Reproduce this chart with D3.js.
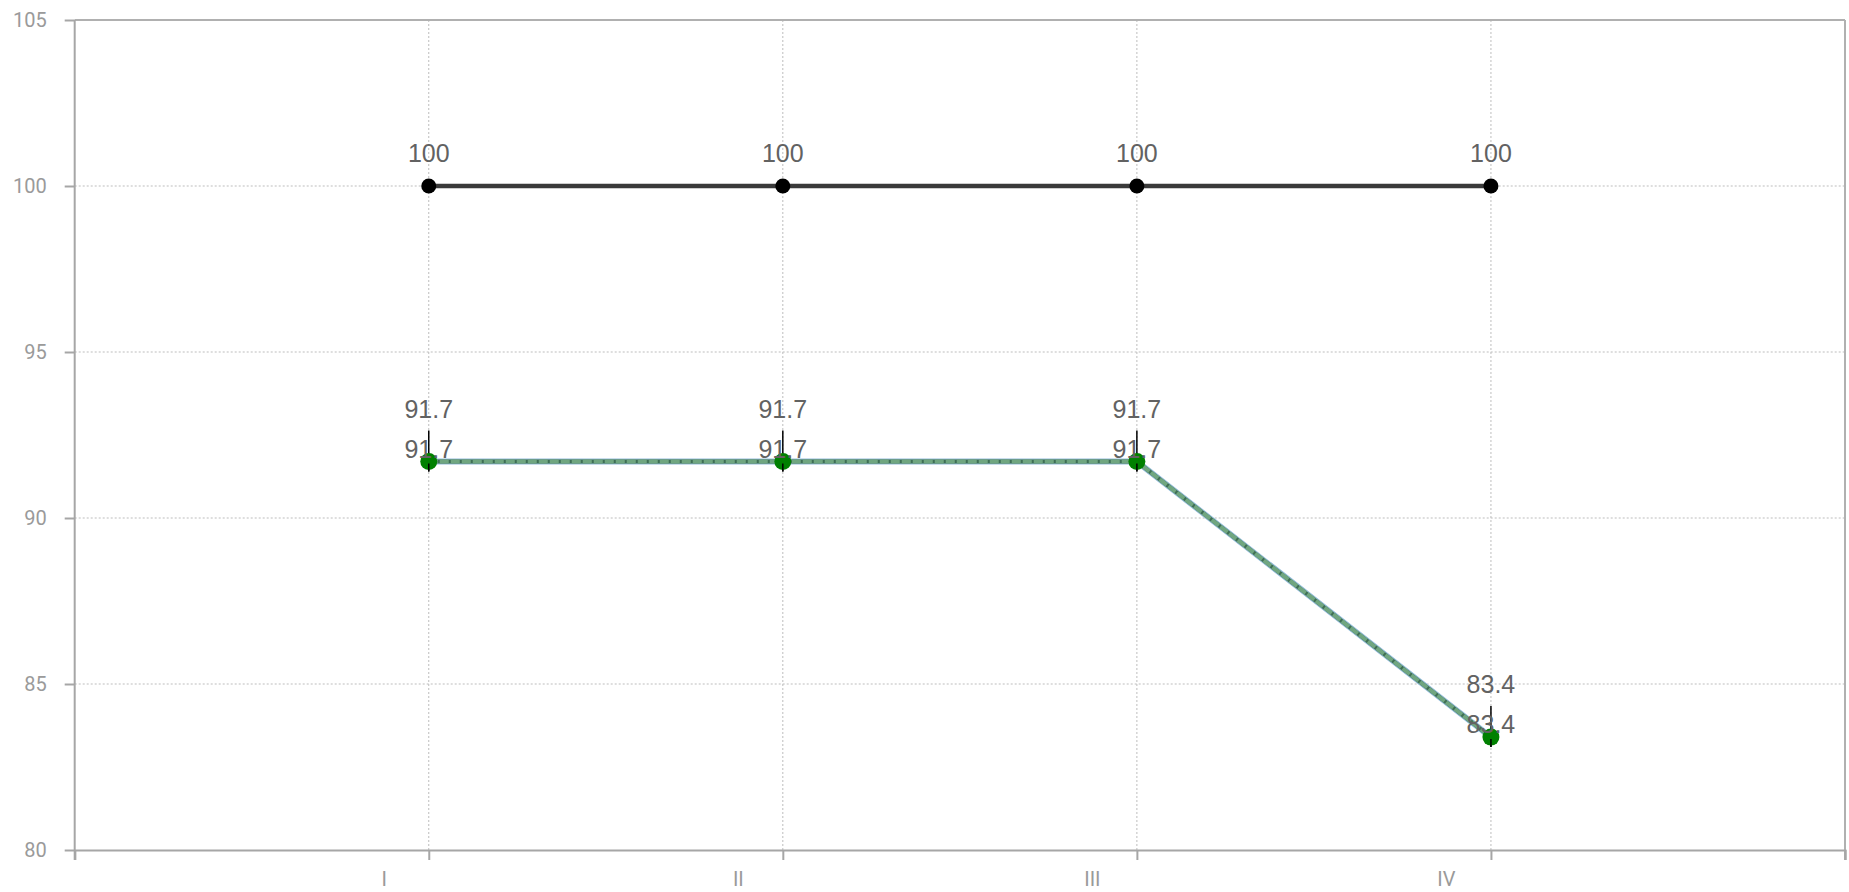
<!DOCTYPE html>
<html lang="en">
<head>
<meta charset="UTF-8">
<title>Line chart</title>
<script src="https://cdn.jsdelivr.net/npm/d3@7"></script>
<style>
  body { margin: 0; background: #fff; }
  .axis text { font-family: Roboto, "Open Sans", sans-serif; font-size: 20px; fill: #9a9a9a; }
  .axis path, .axis line { stroke: #a6a6a6; stroke-width: 2; }
  .grid line { stroke: #bdbdbd; stroke-width: 1; stroke-dasharray: 2,2; }
  .lbl { font-family: "Liberation Sans", Arial, sans-serif; font-size: 25px; fill: #626262; text-anchor: middle; }
</style>
</head>
<body>
<script>
// data
const categories = ['I', 'II', 'III', 'IV']
const xPos = [1, 2, 3, 4]
const seriesTop = [100, 100, 100, 100]
const seriesLow = [91.7, 91.7, 91.7, 83.4]
const yTicks = [80, 85, 90, 95, 100, 105]

const W = 1849, H = 892
const mLeft = 74.7, mRight = 1845, mTop = 20, mBottom = 850

const svg = d3.select('body').append('svg')
  .attr('width', W)
  .attr('height', H)

const x = d3.scaleLinear().domain([0, 5]).range([mLeft, mRight])
const y = d3.scaleLinear().domain([80, 105]).range([mBottom, mTop])

// grid
const grid = svg.append('g').attr('class', 'grid')
grid.selectAll('.gy')
  .data(yTicks.filter(d => d > 80 && d < 105))
  .enter().append('line')
  .attr('x1', mLeft).attr('x2', mRight)
  .attr('y1', d => y(d)).attr('y2', d => y(d))
grid.selectAll('.gx')
  .data(xPos)
  .enter().append('line')
  .attr('x1', d => x(d)).attr('x2', d => x(d))
  .attr('y1', mTop).attr('y2', mBottom)

// frame top/right
svg.append('line')
  .attr('x1', mLeft).attr('x2', mRight).attr('y1', mTop).attr('y2', mTop)
  .attr('stroke', '#b0b0b0').attr('stroke-width', 2)
svg.append('line')
  .attr('x1', mRight).attr('x2', mRight).attr('y1', mTop).attr('y2', mBottom + 10)
  .attr('stroke', '#b0b0b0').attr('stroke-width', 2)

// axes
const yAxis = d3.axisLeft(y).tickValues(yTicks).tickSize(10).tickPadding(18)
svg.append('g').attr('class', 'axis')
  .attr('transform', `translate(${mLeft},0)`)
  .call(yAxis)
  .call(g => g.select('.domain').attr('d', `M0,${mTop}V${mBottom + 10}`))

const xAxis = d3.axisBottom(x)
  .tickValues([0, 1, 2, 3, 4, 5])
  .tickSize(10)
  .tickPadding(12)
  .tickFormat(d => categories[d - 1] || '')
svg.append('g').attr('class', 'axis')
  .attr('transform', `translate(0,${mBottom})`)
  .call(xAxis)
  .call(g => g.selectAll('text').attr('dx', -45))

// lines
const line = d3.line().x((d, i) => x(xPos[i])).y(d => y(d))

svg.append('path')
  .datum(seriesTop)
  .attr('d', line)
  .attr('fill', 'none')
  .attr('stroke', '#3a3a3a')
  .attr('stroke-width', 4.5)

svg.append('path')
  .datum(seriesLow)
  .attr('d', line)
  .attr('fill', 'none')
  .attr('stroke', '#93bcd9')
  .attr('stroke-width', 6)
svg.append('path')
  .datum(seriesLow)
  .attr('d', line)
  .attr('fill', 'none')
  .attr('stroke', '#3f6f55')
  .attr('stroke-width', 4)
svg.append('path')
  .datum(seriesLow)
  .attr('d', line)
  .attr('fill', 'none')
  .attr('stroke', '#70a680')
  .attr('stroke-width', 4)
  .attr('stroke-dasharray', '9,2')

// top series points + labels
svg.selectAll('.ptop')
  .data(seriesTop)
  .enter().append('circle')
  .attr('cx', (d, i) => x(xPos[i]))
  .attr('cy', d => y(d))
  .attr('r', 7.5)
  .attr('fill', '#000')

svg.selectAll('.ltop')
  .data(seriesTop)
  .enter().append('text')
  .attr('class', 'lbl')
  .attr('x', (d, i) => x(xPos[i]))
  .attr('y', d => y(d) - 24)
  .text(d => d)

// lower series: marker bars, points, double labels
svg.selectAll('.bar')
  .data(seriesLow)
  .enter().append('line')
  .attr('x1', (d, i) => x(xPos[i])).attr('x2', (d, i) => x(xPos[i]))
  .attr('y1', d => y(d) - 31).attr('y2', d => y(d) + 10)
  .attr('stroke', '#000').attr('stroke-width', 1.5)

svg.selectAll('.plow')
  .data(seriesLow)
  .enter().append('circle')
  .attr('cx', (d, i) => x(xPos[i]))
  .attr('cy', d => y(d))
  .attr('r', 8.5)
  .attr('fill', '#008000')

svg.selectAll('.bar2')
  .data(seriesLow)
  .enter().append('line')
  .attr('x1', (d, i) => x(xPos[i])).attr('x2', (d, i) => x(xPos[i]))
  .attr('y1', d => y(d) + 2).attr('y2', d => y(d) + 10)
  .attr('stroke', '#000').attr('stroke-width', 1.5)

svg.selectAll('.llow1')
  .data(seriesLow)
  .enter().append('text')
  .attr('class', 'lbl')
  .attr('x', (d, i) => x(xPos[i]))
  .attr('y', d => y(d) - 44)
  .text(d => d)

svg.selectAll('.llow2')
  .data(seriesLow)
  .enter().append('text')
  .attr('class', 'lbl')
  .attr('x', (d, i) => x(xPos[i]))
  .attr('y', d => y(d) - 4)
  .text(d => d)
</script>
</body>
</html>
